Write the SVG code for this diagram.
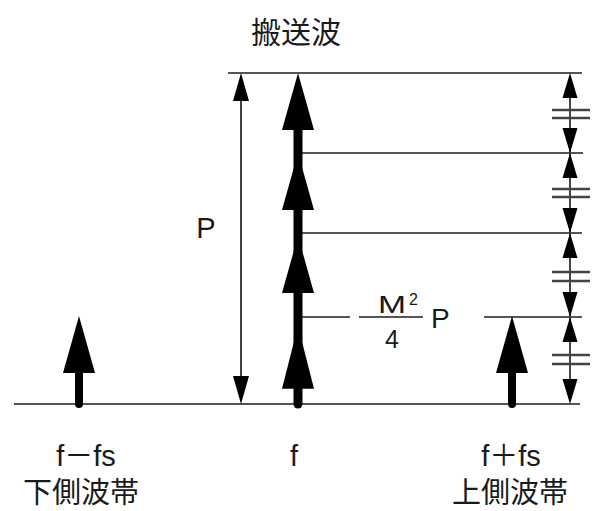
<svg xmlns="http://www.w3.org/2000/svg" xmlns:xlink="http://www.w3.org/1999/xlink" width="602" height="511" viewBox="0 0 602 511">
<style>
.ln{stroke:#555;stroke-width:2.2;fill:none}
.dim{stroke:#444;stroke-width:2;fill:none}
.brk{stroke:#444;stroke-width:2.4}
.shaft{stroke:#000;stroke-linecap:round}
.hd{fill:#000}
.t{font-family:"Liberation Sans","Noto Sans CJK JP",sans-serif;fill:#1a1a1a}
.j{font-family:"Noto Sans CJK JP",sans-serif;fill:#1a1a1a}
</style>
<defs>
<path id="big" d="M0,0 L16,57 L-16,57 Z"/>
<path id="sm" d="M0,0 L8,28 L-8,28 Z"/>
<path id="dh" d="M0,0 L7.5,25 L-7.5,25 Z"/>
</defs>
<rect width="602" height="511" fill="#fff"/>
<g id="connectors">
<line class="ln" x1="228" y1="73" x2="582" y2="73"/>
<line class="ln" x1="300" y1="153" x2="583" y2="153"/>
<line class="ln" x1="300" y1="233" x2="582" y2="233"/>
<line class="ln" x1="300" y1="317" x2="350" y2="317"/>
<line class="ln" x1="484" y1="317" x2="582" y2="317"/>
<line class="ln" x1="14" y1="404" x2="580" y2="404"/>
</g>
<g id="p-dimension">
<line class="dim" x1="241" y1="90" x2="241" y2="390"/>
<use xlink:href="#sm" class="hd" transform="translate(241,73)"/>
<use xlink:href="#sm" class="hd" transform="translate(241,404) rotate(180)"/>
<text class="t" x="206" y="238" font-size="29" text-anchor="middle">P</text>
</g>
<g id="right-dimensions">
<line class="dim" x1="570" y1="80" x2="570" y2="400"/>
<use xlink:href="#dh" class="hd" transform="translate(570,73)"/>
<use xlink:href="#dh" class="hd" transform="translate(570,153) rotate(180)"/>
<use xlink:href="#dh" class="hd" transform="translate(570,153)"/>
<use xlink:href="#dh" class="hd" transform="translate(570,233) rotate(180)"/>
<use xlink:href="#dh" class="hd" transform="translate(570,233)"/>
<use xlink:href="#dh" class="hd" transform="translate(570,317) rotate(180)"/>
<use xlink:href="#dh" class="hd" transform="translate(570,317)"/>
<use xlink:href="#dh" class="hd" transform="translate(570,404) rotate(180)"/>
<g class="brk">
<line x1="552" y1="110" x2="590" y2="110"/><line x1="552" y1="118" x2="590" y2="118"/>
<line x1="552" y1="189" x2="590" y2="189"/><line x1="552" y1="197" x2="590" y2="197"/>
<line x1="552" y1="272" x2="590" y2="272"/><line x1="552" y1="281" x2="590" y2="281"/>
<line x1="552" y1="355" x2="590" y2="355"/><line x1="552" y1="364" x2="590" y2="364"/>
</g>
</g>
<g id="carrier">
<line class="shaft" x1="298" y1="110" x2="298" y2="404" stroke-width="9"/>
<use xlink:href="#big" class="hd" transform="translate(298,73)"/>
<use xlink:href="#big" class="hd" transform="translate(298,153)"/>
<use xlink:href="#big" class="hd" transform="translate(298,236)"/>
<use xlink:href="#big" class="hd" transform="translate(298,326) scale(1,1.1)"/>
<text class="j" x="296" y="43" font-size="30" text-anchor="middle">搬送波</text>
<text class="t" x="294" y="466" font-size="29" text-anchor="middle">f</text>
</g>
<g id="level-label">
<line class="ln" x1="359" y1="317" x2="423" y2="317"/>
<text class="t" x="378" y="313" font-size="24" textLength="28" lengthAdjust="spacingAndGlyphs">M</text>
<text class="t" x="409" y="305" font-size="16">2</text>
<text class="t" x="392" y="348" font-size="25" text-anchor="middle">4</text>
<text class="t" x="431" y="328" font-size="28">P</text>
</g>
<g id="lower-sideband">
<line class="shaft" x1="79" y1="360" x2="79" y2="404" stroke-width="8"/>
<use xlink:href="#big" class="hd" transform="translate(79,316)"/>
<text class="t" x="86" y="466" font-size="29" text-anchor="middle">f－fs</text>
<text class="j" x="81" y="503" font-size="29" text-anchor="middle">下側波帯</text>
</g>
<g id="upper-sideband">
<line class="shaft" x1="512" y1="360" x2="512" y2="404" stroke-width="8"/>
<use xlink:href="#big" class="hd" transform="translate(512,316)"/>
<text class="t" x="511" y="466" font-size="29" text-anchor="middle">f＋fs</text>
<text class="j" x="510" y="503" font-size="29" text-anchor="middle">上側波帯</text>
</g>
</svg>
